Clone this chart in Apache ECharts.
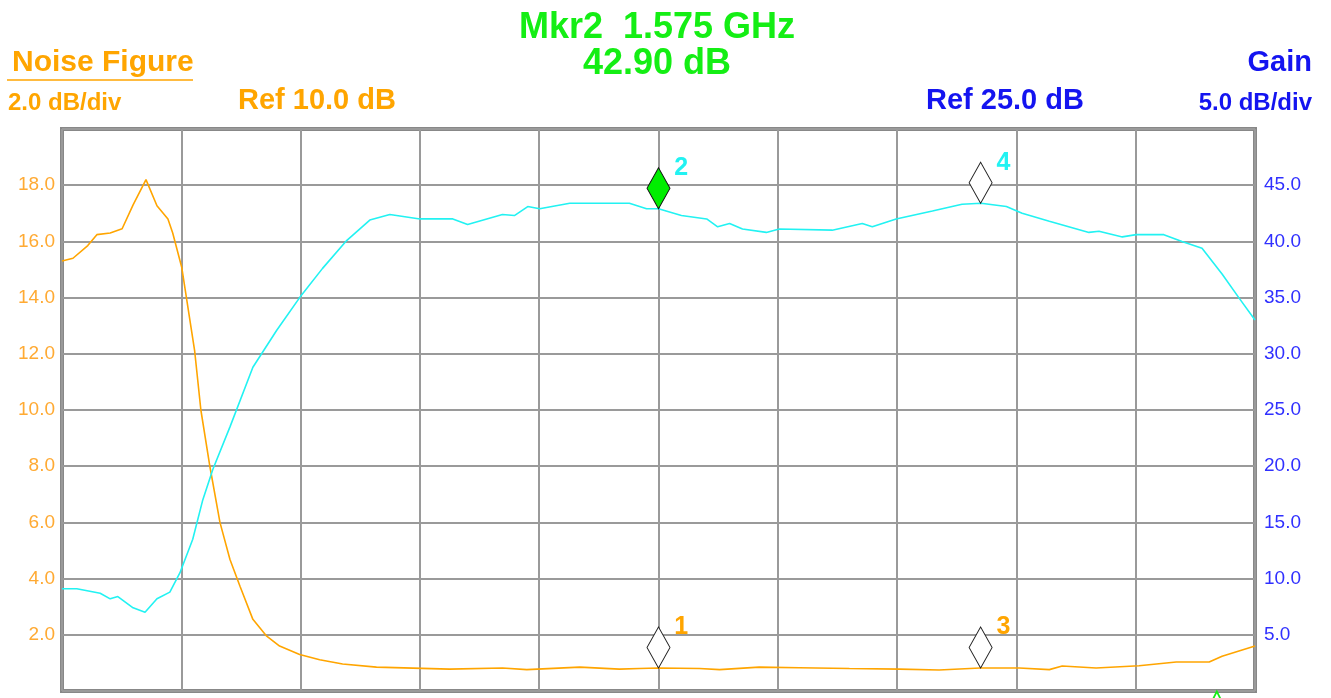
<!DOCTYPE html>
<html>
<head>
<meta charset="utf-8">
<title>Noise Figure / Gain</title>
<script src="https://cdn.jsdelivr.net/npm/echarts@6/dist/echarts.min.js"></script>
<style>
    html, body { margin: 0; padding: 0; background: #fff; }
    #main { width: 1331px; height: 698px; }
</style>
</head>
<body>
<div id="main"></div>
<script>
// frequency axis (MHz), 10 divisions
var freqMin = 1450, freqMax = 1700, freqStep = 25;

// Noise Figure trace (left axis, dB)
var nfFreq = [1450, 1452.3, 1455.4, 1457.3, 1460.1, 1462.6, 1464.9, 1467.6, 1469.9, 1472.2, 1473.2, 1475.1,
    1477.8, 1479.1, 1481.0, 1483.1, 1485.2, 1487.3, 1490.0, 1492.9, 1495.6, 1499.8, 1504.0, 1508.8, 1515.9,
    1531.2, 1542.3, 1547.4, 1558.5, 1566.8, 1571.0, 1575, 1583.6, 1587.8, 1596.1, 1604.5, 1615.0, 1625.5,
    1633.8, 1642.4, 1650.6, 1656.9, 1659.6, 1666.7, 1675.7, 1683.5, 1690.4, 1693.1, 1700];
var nfVal = [15.3, 15.4, 15.85, 16.24, 16.3, 16.45, 17.3, 18.2, 17.27, 16.8, 16.3, 15.07,
    12.1, 10.0, 7.98, 6.0, 4.68, 3.73, 2.55, 1.95, 1.6, 1.3, 1.11, 0.96, 0.85,
    0.78, 0.82, 0.76, 0.85, 0.78, 0.80, 0.82, 0.80, 0.76, 0.85, 0.83, 0.80, 0.78,
    0.75, 0.82, 0.82, 0.76, 0.89, 0.82, 0.90, 1.03, 1.03, 1.24, 1.6];

// Gain trace (right axis, dB)
var gainFreq = [1450, 1453.1, 1458.0, 1460.1, 1461.7, 1464.9, 1467.4, 1469.9, 1472.6, 1474.7, 1477.4, 1479.5,
    1481.6, 1485.2, 1490.0, 1495.0, 1499.8, 1504.6, 1509.7, 1514.5, 1518.7, 1525.0, 1531.9, 1535.0, 1542.3,
    1544.8, 1547.6, 1550.1, 1556.4, 1568.9, 1572.5, 1575, 1579.8, 1585.1, 1587.4, 1589.9, 1592.6, 1597.6,
    1600.3, 1611.4, 1617.7, 1619.8, 1624.8, 1632.4, 1638.6, 1642.6, 1647.9, 1651.2, 1656.9, 1665.2, 1667.3,
    1672.2, 1675.1, 1680.9, 1684.7, 1688.9, 1693.1, 1696.6, 1700];
var gainVal = [9.1, 9.1, 8.7, 8.2, 8.4, 7.4, 7.0, 8.2, 8.8, 10.5, 13.5, 17.0,
    19.7, 23.5, 28.8, 32.1, 35.0, 37.6, 40.1, 41.9, 42.4, 42.0, 42.0, 41.5, 42.4,
    42.3, 43.1, 42.9, 43.4, 43.4, 42.9, 42.9, 42.3, 42.0, 41.3, 41.6, 41.1, 40.8,
    41.1, 41.0, 41.6, 41.3, 42.0, 42.7, 43.3, 43.4, 43.1, 42.5, 41.8, 40.8, 40.9,
    40.4, 40.6, 40.6, 40.0, 39.4, 37.1, 35.0, 33.0];

// markers: [freq, value, label]
var nfMarkers = [[1575, 0.82, '1'], [1642.5, 0.82, '3']];
var gainMarkerActive = [[1575, 42.9, '2']];
var gainMarkers = [[1642.5, 43.4, '4']];
var offMarker = [[1692, -0.73]];

var nfMin = 0, nfMax = 20, nfStep = 2;
var gainMin = 0, gainMax = 50, gainStep = 5;

var ORANGE = '#FFA500', CYAN = '#22F2F2', BLUE = '#1414F0', GREEN = '#14EE14';
var FONT = '"Liberation Sans", Arial, sans-serif';

function pairs(xs, ys) {
    var out = [];
    for (var i = 0; i < xs.length; i++) {
        out.push([xs[i], ys[i]]);
    }
    return out;
}

var myChart = echarts.init(document.getElementById('main'));

var markerLabel = function (color) {
    return {
        show: true,
        position: 'right',
        distance: 4,
        offset: [0, -20],
        color: color,
        fontSize: 25,
        fontWeight: 'bold',
        fontFamily: 'Liberation Sans, Arial, sans-serif',
        formatter: function (p) { return p.data[2]; }
    };
};

var option = {
    animation: false,
    backgroundColor: '#fff',
    textStyle: { fontFamily: 'Liberation Sans, Arial, sans-serif' },
    grid: {
        left: 62, right: 76, top: 129, bottom: 7,
        show: true,
        borderColor: '#888',
        borderWidth: 4,
        backgroundColor: 'transparent'
    },
    xAxis: {
        type: 'value',
        min: freqMin, max: freqMax, interval: freqStep,
        axisLine: { show: false },
        axisTick: { show: false },
        axisLabel: { show: false },
        splitLine: { show: true, lineStyle: { color: '#9a9a9a', width: 2 } }
    },
    yAxis: [
        {
            type: 'value',
            position: 'left',
            min: nfMin, max: nfMax, interval: nfStep,
            axisLine: { show: false },
            axisTick: { show: false },
            axisLabel: {
                color: '#FFAA33',
                fontSize: 19,
                margin: 7,
                formatter: function (v) {
                    return (v <= nfMin || v >= nfMax) ? '' : v.toFixed(1);
                }
            },
            splitLine: { show: true, lineStyle: { color: '#9a9a9a', width: 2 } }
        },
        {
            type: 'value',
            position: 'right',
            min: gainMin, max: gainMax, interval: gainStep,
            axisLine: { show: false },
            axisTick: { show: false },
            axisLabel: {
                color: '#3030FF',
                fontSize: 19,
                margin: 9,
                formatter: function (v) {
                    return (v <= gainMin || v >= gainMax) ? '' : v.toFixed(1);
                }
            },
            splitLine: { show: false }
        }
    ],
    series: [
        {
            name: 'Noise Figure',
            type: 'line',
            yAxisIndex: 0,
            showSymbol: false,
            data: pairs(nfFreq, nfVal),
            lineStyle: { color: ORANGE, width: 1.6 },
            z: 3
        },
        {
            name: 'Gain',
            type: 'line',
            yAxisIndex: 1,
            showSymbol: false,
            data: pairs(gainFreq, gainVal),
            lineStyle: { color: CYAN, width: 1.6 },
            z: 3
        },
        {
            // hollow markers on the NF trace
            type: 'scatter',
            yAxisIndex: 0,
            symbol: 'diamond',
            symbolSize: [23, 41],
            symbolOffset: [0, '-50%'],
            data: nfMarkers,
            itemStyle: { color: '#fff', borderColor: '#222', borderWidth: 1, opacity: 1 },
            label: markerLabel(ORANGE),
            z: 5
        },
        {
            // hollow marker on gain
            type: 'scatter',
            yAxisIndex: 1,
            symbol: 'diamond',
            symbolSize: [23, 41],
            symbolOffset: [0, '-50%'],
            data: gainMarkers,
            itemStyle: { color: '#fff', borderColor: '#222', borderWidth: 1, opacity: 1 },
            label: markerLabel(CYAN),
            z: 5
        },
        {
            // active marker (filled)
            type: 'scatter',
            yAxisIndex: 1,
            symbol: 'diamond',
            symbolSize: [23, 41],
            symbolOffset: [0, '-50%'],
            data: gainMarkerActive,
            itemStyle: { color: '#00EE00', borderColor: '#111', borderWidth: 1, opacity: 1 },
            label: markerLabel(CYAN),
            z: 6
        },
        {
            // marker sitting below the screen edge
            type: 'scatter',
            yAxisIndex: 0,
            symbol: 'diamond',
            symbolSize: [20, 40],
            clip: false,
            data: offMarker,
            itemStyle: { color: 'transparent', borderColor: GREEN, borderWidth: 2, opacity: 1 },
            z: 1
        }
    ],
    graphic: [
        { type: 'text', left: 12, top: 48, style: { text: 'Noise Figure', fill: ORANGE, font: 'bold 30px ' + FONT } },
        { type: 'line', shape: { x1: 7, y1: 80, x2: 193, y2: 80 }, style: { stroke: ORANGE, lineWidth: 1.5 } },
        { type: 'text', left: 8, top: 91, style: { text: '2.0 dB/div', fill: ORANGE, font: 'bold 24px ' + FONT } },
        { type: 'text', left: 238, top: 86, style: { text: 'Ref 10.0 dB', fill: ORANGE, font: 'bold 29px ' + FONT } },
        { type: 'text', x: 657, y: 10, style: { text: 'Mkr2  1.575 GHz', fill: GREEN, align: 'center', font: 'bold 36px ' + FONT } },
        { type: 'text', x: 657, y: 46, style: { text: '42.90 dB', fill: GREEN, align: 'center', font: 'bold 36px ' + FONT } },
        { type: 'text', left: 926, top: 86, style: { text: 'Ref 25.0 dB', fill: BLUE, font: 'bold 29px ' + FONT } },
        { type: 'text', x: 1312, y: 48, style: { text: 'Gain', fill: BLUE, align: 'right', font: 'bold 29px ' + FONT } },
        { type: 'text', x: 1312, y: 91, style: { text: '5.0 dB/div', fill: BLUE, align: 'right', font: 'bold 24px ' + FONT } }
    ]
};

myChart.setOption(option);
</script>
</body>
</html>
